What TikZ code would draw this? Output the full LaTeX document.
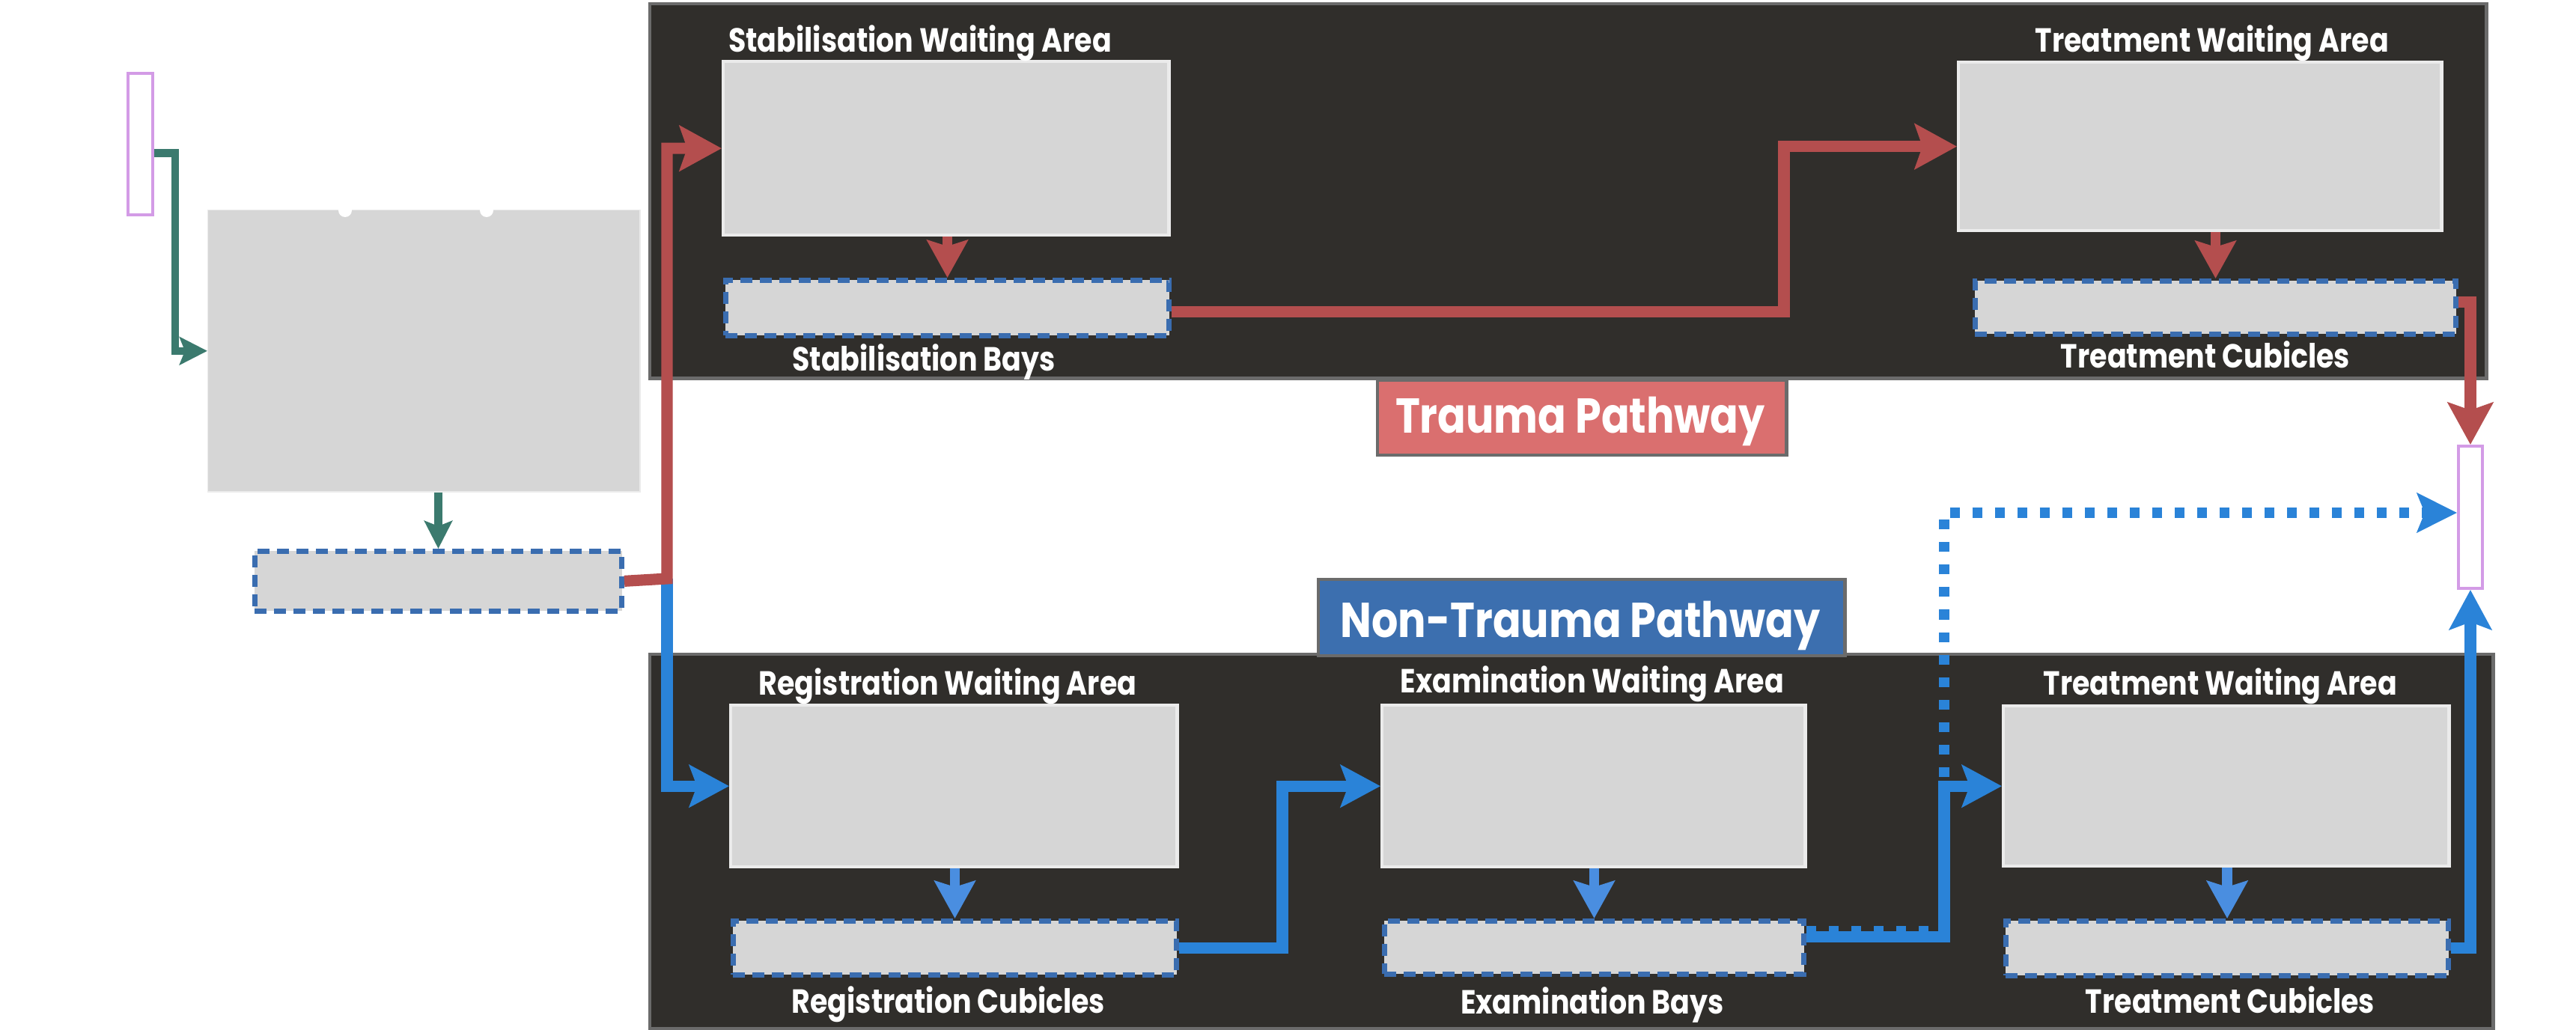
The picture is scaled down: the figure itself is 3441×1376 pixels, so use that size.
\documentclass[tikz,border=0pt]{standalone}
\usepackage{fontspec}
\setmainfont{Poppins}[FakeStretch=0.85]
\usetikzlibrary{arrows.meta}
\definecolor{panelc}{HTML}{302E2B}
\definecolor{panelborder}{HTML}{6B6B6B}
\definecolor{boxfill}{HTML}{D6D6D6}
\definecolor{boxborder}{HTML}{EBEBEB}
\definecolor{dashblue}{HTML}{3A6DB0}
\definecolor{redc}{HTML}{B44E4E}
\definecolor{bluec}{HTML}{2A83D8}
\definecolor{bluel}{HTML}{4A8EE0}
\definecolor{greenc}{HTML}{3B7A6E}
\definecolor{purplec}{HTML}{D39BE6}
\definecolor{traumafill}{HTML}{DA6F6F}
\definecolor{nontraumafill}{HTML}{3C6FAF}
\begin{document}
\begin{tikzpicture}[x=0.01cm,y=-0.01cm,
  panelbox/.style={draw=panelborder, fill=panelc, line width=1.2pt, inner sep=0pt, anchor=north west},
  waitbox/.style={draw=boxborder, fill=boxfill, line width=1.2pt, inner sep=0pt, anchor=north west},
  bedbox/.style={draw=dashblue, fill=boxfill, line width=1.9pt, dash pattern=on 0.16cm off 0.10cm, inner sep=0pt, anchor=north west},
  portbox/.style={draw=purplec, fill=white, line width=1.1pt, inner sep=0pt, anchor=north west},
  labelbox/.style={draw=panelborder, line width=1.2pt, inner sep=0pt, anchor=north west},
  titletext/.style={text=white, font=\bfseries\fontsize{12.7pt}{15pt}\selectfont, inner sep=0pt, anchor=base},
  pathtext/.style={text=white, font=\bfseries\fontsize{18.6pt}{22pt}\selectfont, inner sep=0pt, anchor=base},
  redflow/.style={draw=redc, line width=4.3pt, -{Stealth[length=0.56cm, width=0.60cm, inset=0.10cm]}},
  redshort/.style={draw=redc, line width=3.8pt, -{Stealth[length=0.50cm, width=0.54cm, inset=0.08cm]}},
  blueflow/.style={draw=bluec, line width=4.3pt, -{Stealth[length=0.53cm, width=0.56cm, inset=0.10cm]}},
  blueshort/.style={draw=bluel, line width=3.8pt, -{Stealth[length=0.50cm, width=0.54cm, inset=0.08cm]}},
  bluedot/.style={draw=bluec, line width=3.8pt, dash pattern=on 0.13cm off 0.17cm, -{Stealth[length=0.53cm, width=0.52cm, inset=0.10cm]}},
  greenflow/.style={draw=greenc, line width=2.9pt, -{Stealth[length=0.37cm, width=0.37cm, inset=0.07cm]}},
]
\useasboundingbox (0,0) rectangle (3441,1376);
\fill[white] (0,0) rectangle (3441,1376);

% panels
\node[panelbox, minimum width=24.52cm, minimum height=5.00cm] (tpanel) at (866,3) {};
\node[panelbox, minimum width=24.61cm, minimum height=5.00cm] (npanel) at (866,872) {};

% pathway labels
\node[labelbox, fill=traumafill, minimum width=5.46cm, minimum height=1.00cm] (tlabel) at (1838,506) {};
\node[pathtext] (tlabeltext) at (2111,578) {Trauma Pathway};
\node[labelbox, fill=nontraumafill, minimum width=7.03cm, minimum height=1.02cm] (nlabel) at (1759,772) {};
\node[pathtext] (nlabeltext) at (2111,851) {Non-Trauma Pathway};

% entry / exit
\node[portbox, minimum width=0.33cm, minimum height=1.89cm] (entry) at (169,96) {};
\node[portbox, minimum width=0.32cm, minimum height=1.90cm] (exit) at (3282,594) {};

% triage
\node[draw=boxborder, fill=boxfill, line width=0.4pt, inner sep=0pt, anchor=north west, minimum width=5.77cm, minimum height=3.76cm] (triage) at (277,280) {};
\fill[white] (461,281) circle (9);
\fill[white] (650,281) circle (9);
\node[bedbox, minimum width=4.90cm, minimum height=0.80cm] (triagebay) at (337,733) {};

% trauma pathway boxes
\node[waitbox, minimum width=5.95cm, minimum height=2.32cm] (stabwait) at (964,80) {};
\node[bedbox, minimum width=5.92cm, minimum height=0.74cm] (stabbay) at (966,371) {};
\node[waitbox, minimum width=6.45cm, minimum height=2.25cm] (trtwaitt) at (2614,81) {};
\node[bedbox, minimum width=6.42cm, minimum height=0.71cm] (trtcubt) at (2635,372) {};

\node[titletext] (stabwaitlab) at (1229,70) {Stabilisation Waiting Area};
\node[titletext] (stabbaylab) at (1234,495) {Stabilisation Bays};
\node[titletext] (trtwaittlab) at (2955,70) {Treatment Waiting Area};
\node[titletext] (trtcubtlab) at (2946,491) {Treatment Cubicles};

% non-trauma pathway boxes
\node[waitbox, minimum width=5.96cm, minimum height=2.16cm] (regwait) at (974,940) {};
\node[bedbox, minimum width=5.92cm, minimum height=0.72cm] (regcub) at (976,1227) {};
\node[waitbox, minimum width=5.65cm, minimum height=2.16cm] (exwait) at (1844,940) {};
\node[bedbox, minimum width=5.60cm, minimum height=0.71cm] (exbay) at (1846,1227) {};
\node[waitbox, minimum width=5.95cm, minimum height=2.14cm] (trtwaitn) at (2674,941) {};
\node[bedbox, minimum width=5.91cm, minimum height=0.73cm] (trtcubn) at (2676,1227) {};

\node[titletext] (regwaitlab) at (1266,928) {Registration Waiting Area};
\node[titletext] (regcublab) at (1267,1353) {Registration Cubicles};
\node[titletext] (exwaitlab) at (2127,925) {Examination Waiting Area};
\node[titletext] (exbaylab) at (2127,1354) {Examination Bays};
\node[titletext] (trtwaitnlab) at (2966,928) {Treatment Waiting Area};
\node[titletext] (trtcubnlab) at (2979,1353) {Treatment Cubicles};

% green entry connectors
\draw[greenflow] ([yshift=-0.12cm]entry.east) -- ++(28,0) |- (triage.west);
\draw[greenflow] (triagebay.north |- triage.south) -- (triagebay.north);

% split junction
\coordinate (split) at (891,773);

% blue flows
\draw[blueflow] (split) |- (regwait.west);
\draw[blueshort] (regcub.north |- regwait.south) -- (regcub.north);
\draw[blueflow] (regcub.east) -- ++(138,0) |- (exwait.west);
\draw[blueshort] (exbay.north |- exwait.south) -- (exbay.north);
\draw[bluedot] ([yshift=0.22cm]exbay.east) -- ++(184,0) |- ([yshift=0.06cm]exit.west);
\draw[blueflow] ([yshift=0.14cm]exbay.east) -- ++(184,0) |- (trtwaitn.west);
\draw[blueshort] (trtcubn.north |- trtwaitn.south) -- (trtcubn.north);
\draw[blueflow] (trtcubn.east) -| (exit.south);

% red flows
\draw[redflow] (triagebay.east) -- (split) |- (stabwait.west);
\draw[redshort] (stabbay.north |- stabwait.south) -- (stabbay.north);
\draw[redflow] ([yshift=-0.05cm]stabbay.east) -- ++(818,0) |- (trtwaitt.west);
\draw[redshort] (trtcubt.north |- trtwaitt.south) -- (trtcubt.north);
\draw[redflow] ([yshift=0.07cm]trtcubt.east) -| (exit.north);
\end{tikzpicture}
\end{document}
